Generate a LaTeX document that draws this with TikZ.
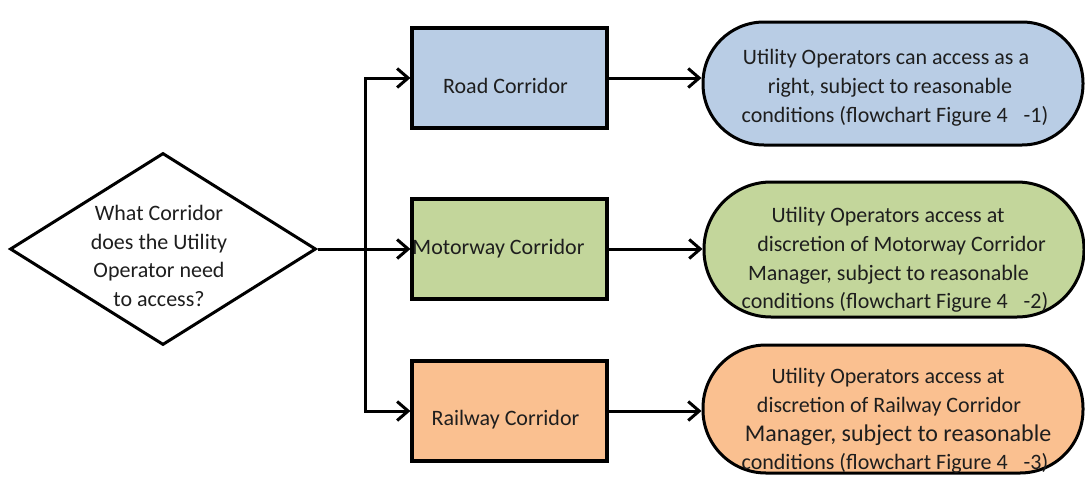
\documentclass[tikz,border=0pt]{standalone}
\usepackage{fontspec}
\setmainfont{Carlito}
\usetikzlibrary{shapes.geometric,arrows.meta}
\definecolor{roadblue}{RGB}{185,205,229}
\definecolor{motorgreen}{RGB}{195,214,155}
\definecolor{railorange}{RGB}{250,192,144}
\definecolor{inkc}{RGB}{30,30,30}
% shift one centred line sideways without changing its width
\newcommand\nudge[2]{\hspace*{#1}#2\hspace*{-#1}}
\begin{document}
\begin{tikzpicture}[x=1pt,y=-1pt,
  every node/.style={font=\fontsize{22}{28.8}\selectfont, text=inkc},
  corridor/.style={draw=black, line width=3.2pt, minimum width=195pt,
    minimum height=100pt, inner sep=0pt},
  outcome/.style={draw=black, line width=3pt, minimum width=380pt, inner sep=0pt},
  words/.style={align=center, inner sep=0pt},
  flow/.style={line width=3pt, -{Straight Barb[length=11pt,width=19pt]}},
]
\useasboundingbox (0,0) rectangle (1085,477);

% question
\node[diamond, draw=black, line width=3pt, fill=white, minimum width=306pt,
  minimum height=192pt, inner sep=0pt] (q) at (163,249) {};
\node[words] (qtext) at (159,256)
  {What Corridor\\does the Utility\\Operator need\\to access?};

% corridor types
\node[corridor, fill=roadblue]   (road)  at (509.5,78)  {};
\node[words] (roadlbl) at (505.5,86) {Road Corridor};
\node[corridor, fill=motorgreen] (motor) at (509.5,249)
  {\nudge{-11pt}{Motorway Corridor}};
\node[corridor, fill=railorange] (rail)  at (509.5,411) {};
\node[words] (raillbl) at (505.5,420) {Railway Corridor};

% outcomes
\node[outcome, fill=roadblue, minimum height=123pt, rounded corners=61pt]
  (roadout) at (893,83.5) {};
\node[words] (roadtxt) at (893,88)
  {\nudge{-7pt}{Utility Operators can access as a}\\
   \nudge{-6pt}{right, subject to reasonable}\\
   \nudge{2pt}{conditions (flowchart Figure 4\hspace{16pt}-1)}};

\node[outcome, fill=motorgreen, minimum height=135pt, rounded corners=67pt]
  (motorout) at (894,249.5) {};
\node[words] (motortxt) at (894,260)
  {\nudge{-6pt}{Utility Operators access at}\\
   \nudge{15pt}{discretion of Motorway Corridor}\\
   \nudge{-11pt}{Manager, subject to reasonable}\\
   \nudge{1pt}{conditions (flowchart Figure 4\hspace{16pt}-2)}};

\node[outcome, fill=railorange, minimum height=128pt, rounded corners=63pt]
  (railout) at (893,409) {};
\node[words] (railtxt) at (893,421)
  {\nudge{-5pt}{Utility Operators access at}\\
   \nudge{-8pt}{discretion of Railway Corridor}\\
   \nudge{10pt}{{\fontsize{24}{28.8}\selectfont Manager, subject to reasonable}}\\
   \nudge{2pt}{conditions (flowchart Figure 4\hspace{16pt}-3)}};

% connectors
\coordinate (j) at (365,249);
\draw[flow] (q.east) -- (motor.west);
\draw[flow] (j) |- (road.west);
\draw[flow] (j) |- (rail.west);
\draw[flow] (road.east)  -- (road.east -| roadout.west);
\draw[flow] (motor.east) -- (motor.east -| motorout.west);
\draw[flow] (rail.east)  -- (rail.east -| railout.west);
\end{tikzpicture}
\end{document}
